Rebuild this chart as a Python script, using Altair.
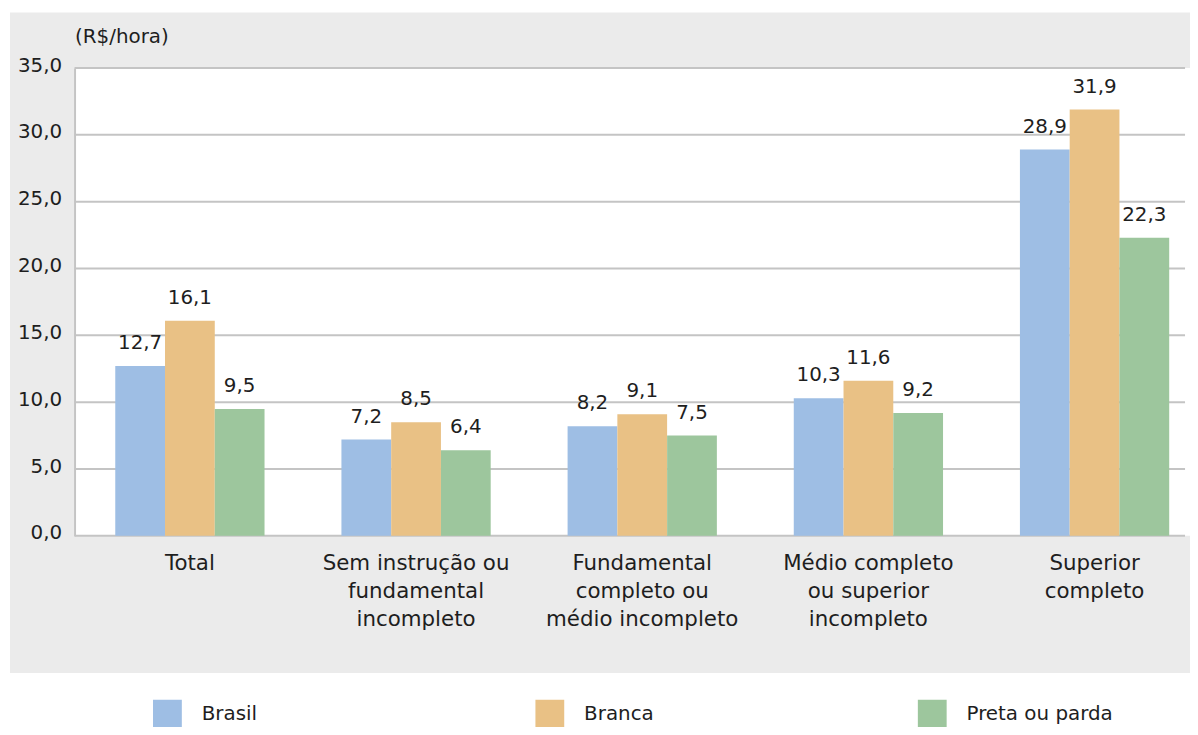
import altair as alt
import pandas as pd

categories = [
    "Total",
    "Sem instrução ou|fundamental|incompleto",
    "Fundamental|completo ou|médio incompleto",
    "Médio completo|ou superior|incompleto",
    "Superior|completo",
]
series = ["Brasil", "Branca", "Preta ou parda"]
brasil = [12.7, 7.2, 8.2, 10.3, 28.9]
branca = [16.1, 8.5, 9.1, 11.6, 31.9]
preta = [9.5, 6.4, 7.5, 9.2, 22.3]
y_ticks = [0, 5, 10, 15, 20, 25, 30, 35]
colors = ["#9ebee4", "#e9c185", "#9dc69d"]

rows = []
for i, c in enumerate(categories):
    for s, vals in zip(series, [brasil, branca, preta]):
        rows.append({"cat": c, "serie": s, "valor": vals[i]})
df = pd.DataFrame(rows)
ticks_df = pd.DataFrame({"valor": y_ticks})
one = pd.DataFrame({"a": [0]})

W, H = 1118, 471
FONT = "DejaVu Sans"
TXT = "#1e1e1e"
FS = 20

yscale = alt.Scale(domain=[0, 35], nice=False, zero=True)
yaxis = alt.Axis(
    title="(R$/hora)",
    values=y_ticks,
    labelExpr="replace(format(datum.value, '.1f'), '.', ',')",
    labelFont=FONT,
    labelFontSize=FS,
    labelColor=TXT,
    labelPadding=13,
    labelOffset=-3,
    ticks=False,
    grid=False,
    domain=True,
    domainColor="#c4c4c4",
    domainWidth=2,
    titleAngle=0,
    titleX=0,
    titleY=-26,
    titleAlign="left",
    titleBaseline="alphabetic",
    titleFont=FONT,
    titleFontSize=FS,
    titleFontWeight="normal",
    titleColor=TXT,
    zindex=1,
)
xscale = alt.Scale(paddingInner=0.34, paddingOuter=0.125, align=0.72)
xaxis = alt.Axis(
    title=None,
    labelExpr="split(datum.label, '|')",
    labelAngle=0,
    labelFontSize=21.5,
    labelLineHeight=28,
    labelPadding=17,
    labelFont=FONT,
    labelColor=TXT,
    labelLimit=400,
    ticks=False,
    domain=False,
    grid=False,
    zindex=1,
)

bg = alt.Chart(one).mark_rect(color="#ebebeb").encode(
    x=alt.value(-65), x2=alt.value(W + 20), y=alt.value(-56), y2=alt.value(609)
)
plotbg = alt.Chart(one).mark_rect(color="white").encode(
    x=alt.value(0), x2=alt.value(W + 20), y=alt.value(0), y2=alt.value(H)
)
grid = alt.Chart(ticks_df).mark_rule(color="#c4c4c4", strokeWidth=2).encode(
    y=alt.Y("valor:Q", scale=yscale, axis=yaxis)
)

bars = alt.Chart(df).mark_bar().encode(
    x=alt.X("cat:N", sort=categories, scale=xscale, axis=xaxis),
    xOffset=alt.XOffset("serie:N", sort=series),
    y=alt.Y("valor:Q", scale=yscale, axis=yaxis),
    color=alt.Color(
        "serie:N",
        sort=series,
        scale=alt.Scale(domain=series, range=colors),
        legend=alt.Legend(
            title=None,
            orient="none",
            legendX=79,
            legendY=636,
            direction="horizontal",
            columns=3,
            gridAlign="all",
            columnPadding=188,
            symbolType="M-1,-1H1V1H-1Z",
            symbolSize=841,
            symbolStrokeWidth=0,
            symbolOpacity=1,
            labelFont=FONT,
            labelFontSize=FS,
            labelColor=TXT,
            labelOffset=20,
            labelLimit=400,
            padding=0,
        ),
    ),
)

labels = alt.Chart(df).transform_calculate(
    lab="replace(format(datum.valor, '.1f'), '.', ',')"
).mark_text(
    font=FONT, fontSize=FS, color=TXT, baseline="alphabetic", dy=-17
).encode(
    x=alt.X("cat:N", sort=categories, scale=xscale, axis=xaxis),
    xOffset=alt.XOffset("serie:N", sort=series),
    y=alt.Y("valor:Q", scale=yscale, axis=yaxis),
    text="lab:N",
)

chart = alt.layer(bg, plotbg, grid, bars, labels).properties(
    width=W,
    height=H,
    autosize="none",
    padding={"left": 67, "top": 58, "right": 5, "bottom": 190},
).configure_view(stroke=None).configure(background="white")

chart.save("out.html", embed_options={"renderer": "svg", "actions": False})
